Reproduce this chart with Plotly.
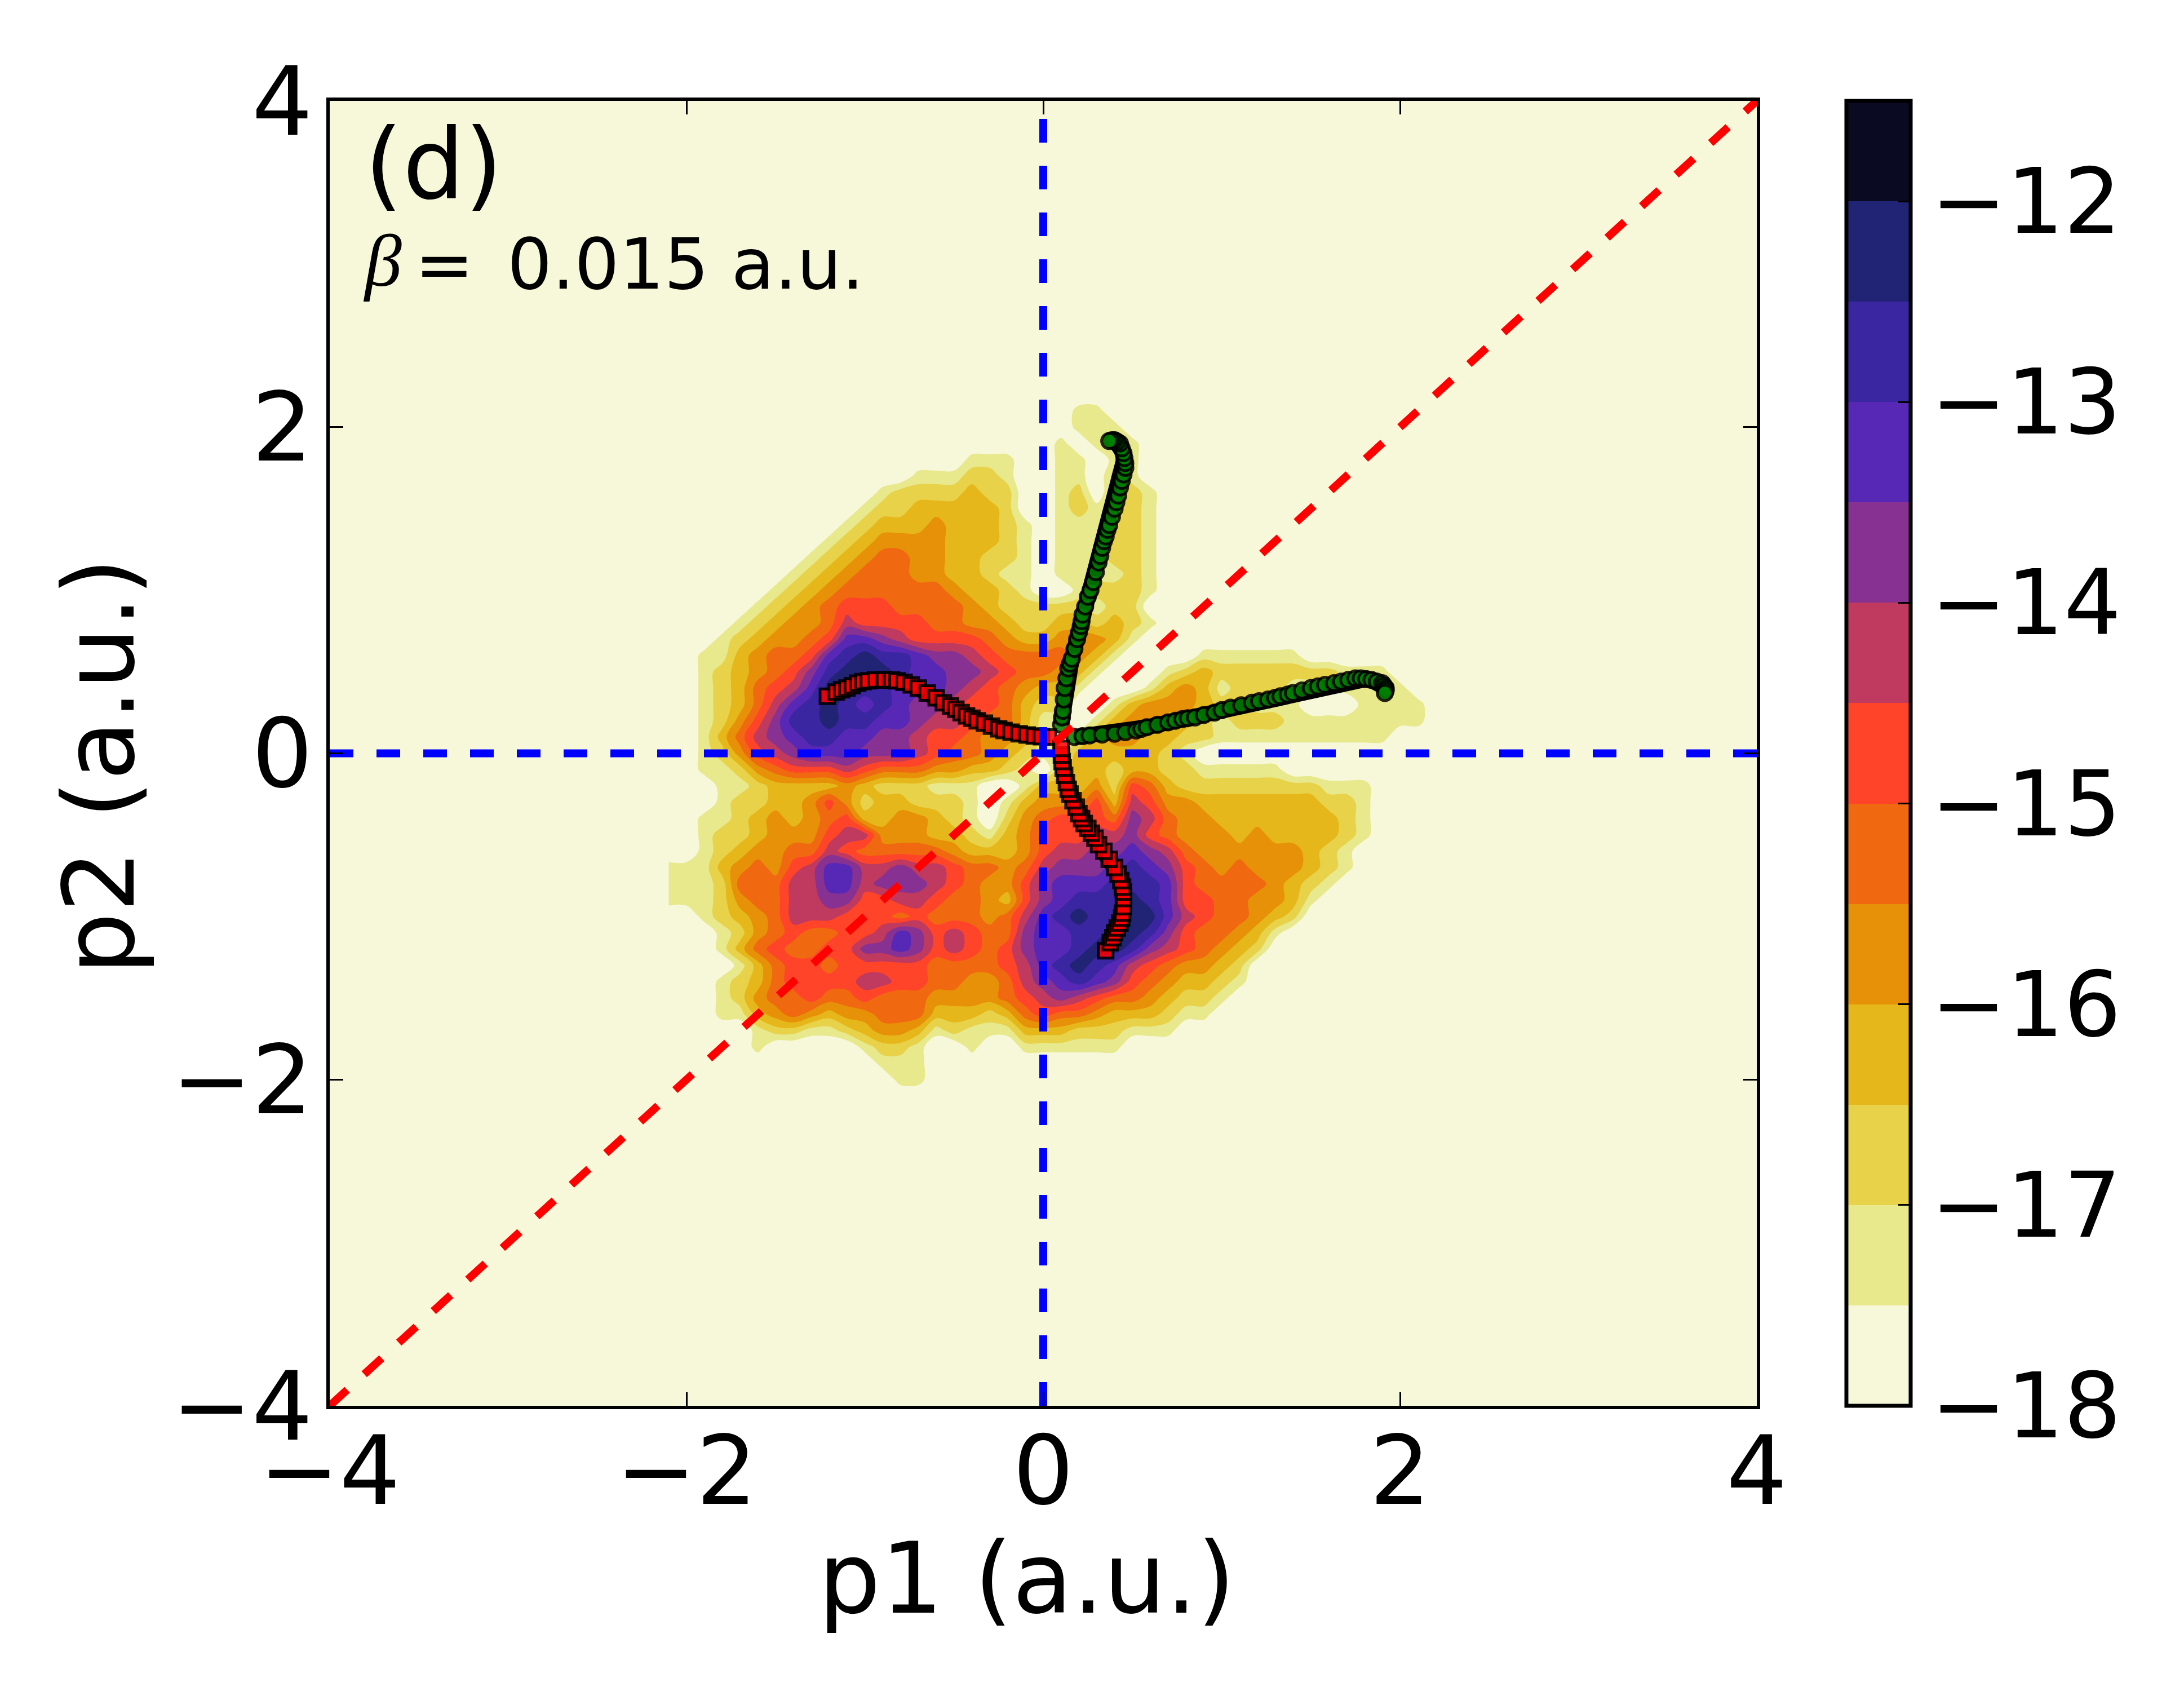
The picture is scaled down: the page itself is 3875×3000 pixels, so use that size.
import plotly.graph_objects as go

# momentum grid (a.u.)
p1_grid = [round(-2.1 + 0.1 * i, 1) for i in range(44)]
p2_grid = [round(2.2 - 0.1 * i, 1) for i in range(44)]

# log10-yield bands, one hexadecimal digit per grid cell.
# p2 -> (first p1 of the run, digits); cells outside a run sit on the floor (digit 0).
z_runs = {
    2.1: (0.2, "11"),
    2.0: (0.2, "111"),
    1.9: (0.1, "10111"),
    1.8: (-0.4, "111 00 110 11"),
    1.7: (-0.7, "111221 00 11021"),
    1.6: (-0.9, "12222322 00 120221"),
    1.5: (-1.0, "122333332 00 121221"),
    1.4: (-1.1, "1233343332 10 111221"),
    1.3: (-1.2, "12344443332 10 111221"),
    1.2: (-1.3, "123455443322 10 111221"),
    1.1: (-1.4, "1234555443321 10 111121"),
    1.0: (-1.5, "12345555554332 10 012221"),
    0.9: (-1.6, "123456665555432 2 2 22122"),
    0.8: (-1.7, "1234457666655443 2 2 332321"),
    0.7: (-1.8, "12344569987666654 3 3 44431"),
    0.6: (-1.9, "1134556 9abaa9887 65555431 0000 111111"),
    0.5: (-1.9, "123456 8abbba9988 76554 31 000 123 2222222 111"),
    0.4: (-1.9, "1235679bbaa9998765433 1 000 1343 1 222 1111111"),
    0.3: (-1.9, "123579aba9a98876653 22 00 13444 322 111 000 1111"),
    0.2: (-1.9, "12468aabaa99877655 3 11 0 1344 332 1 222 11111111"),
    0.1: (-1.9, "1357 89aa99887665443 1 0 1 344 33 22 1111111111"),
    0.0: (-1.9, "12467899988876554 32 11 33333 21"),
    -0.1: (-1.9, "11245666 7655544332 1 0 233 2 33 22 11111"),
    -0.2: (-1.8, "1123333 4 3222 111 00 1 333 4 2 65 3 22222222 111"),
    -0.3: (-1.8, "12233464 2 33 222 1 0 1 3 444 6 3 7 6 44 3333333 22 1"),
    -0.4: (-1.9, "1123 4 3456 33 44 32 1 0 2 4 5 666 5 8 7 5 44 3333333 2 1"),
    -0.5: (-1.9, "12234446 77 444 33 2 1 3 4 666 77 8 6 5 444 3 4 3333 2 1"),
    -0.6: (-1.9, "12344557 6 55555 4 333 4 6 77 88 9 8 7 5 444444 3 2 1"),
    -0.7: (-2.1, "111 34546799 77 8 77 6 55 4 5 7 888 9 a 9 8 6 5 4 5 444 3 2 1"),
    -0.8: (-2.1, "111 25557799 7 888 7 6 5 44 6 8 999 aaa 9 6 5555 4 3 2 1"),
    -0.9: (-2.1, "111 24557788 66 77 6 55 4 3 6 8 9 aaa b a 9 66 55 44 3 1"),
    -1.0: (-1.9, "12345777 666 5 6 555 4 5 7 9 a b aa bb 9 7 6 55 4 3 2"),
    -1.1: (-1.8, "1245655667 98 6 7 6 55 8 99 aa bb a 8 6 55 4 3 1"),
    -1.2: (-1.8, "13565566 88 98 6 7 6 5 6 8 99 a bb a 8 7 6 5 4 3 2"),
    -1.3: (-1.7, "13566566666 5555 6 7 9 a b a 9 7 6 5 44 3 2"),
    -1.4: (-1.8, "12356666 77 66 55 44 5 7 8 9 a 9 8 6 5 4 33 2 1"),
    -1.5: (-1.8, "12455655 6 555 4444 5 6 7 8 7 6 55 4 3 22 1"),
    -1.6: (-1.8, "11345 4 3 44 555 333 2 3 5 6 55 4 333 2 11"),
    -1.7: (-1.6, "122112344 3 1 2 111 333 222 111"),
    -1.8: (-1.6, "1 00000 1221 00 1 00 1 1 1111"),
    -1.9: (-0.9, "111"),
    -2.0: (-0.8, "11"),
}
FLOOR = -18.0
BAND_BOTTOM = -18.0
BAND_STEP = 0.5

# classical trajectories: the second branch of each pair is the first with p1 and p2 exchanged
green_a = [0.10, 0.105, 0.11, 0.115, 0.12, 0.13, 0.14, 0.15, 0.16, 0.175, 0.19, 0.20, 0.21, 0.215, 0.22, 0.235, 0.25, 0.265, 0.28, 0.295, 0.31, 0.32, 0.33, 0.34, 0.35, 0.36, 0.37, 0.385, 0.40, 0.41, 0.42, 0.43, 0.44, 0.45, 0.46, 0.46, 0.455, 0.45, 0.44, 0.43, 0.415, 0.40, 0.385, 0.37]
green_b = [0.175, 0.22, 0.26, 0.33, 0.40, 0.46, 0.52, 0.55, 0.58, 0.64, 0.70, 0.74, 0.78, 0.81, 0.85, 0.90, 0.96, 1.00, 1.05, 1.11, 1.17, 1.21, 1.26, 1.30, 1.33, 1.37, 1.40, 1.45, 1.50, 1.54, 1.58, 1.63, 1.67, 1.71, 1.75, 1.78, 1.81, 1.84, 1.87, 1.90, 1.91, 1.92, 1.92, 1.915]
red_a = [-1.21, -1.16, -1.13, -1.10, -1.07, -1.04, -1.01, -0.98, -0.94, -0.89, -0.85, -0.82, -0.78, -0.74, -0.70, -0.65, -0.60, -0.56, -0.52, -0.49, -0.46, -0.43, -0.40, -0.37, -0.33, -0.29, -0.25, -0.22, -0.18, -0.135, -0.09, -0.05, -0.01, 0.03]
red_b = [0.35, 0.376, 0.39, 0.40, 0.415, 0.43, 0.44, 0.445, 0.45, 0.45, 0.45, 0.445, 0.435, 0.42, 0.40, 0.37, 0.34, 0.31, 0.29, 0.27, 0.25, 0.23, 0.215, 0.20, 0.185, 0.167, 0.15, 0.14, 0.13, 0.12, 0.112, 0.106, 0.102, 0.10]

guide_v_x, guide_v_y = [0, 0], [-4, 4]
guide_h_x, guide_h_y = [-4, 4], [0, 0]
guide_d_x, guide_d_y = [-4, 4], [-4, 4]

axis_ticks = [-4, -2, 0, 2, 4]
bar_ticks = [-18, -17, -16, -15, -14, -13, -12]
band_colors = ["#F7F8DA", "#E8E88C", "#E8D24A", "#E6B71A", "#E69108", "#F0680F", "#FF442A",
               "#BF3A5E", "#873292", "#5727B5", "#3A26A0", "#212375", "#0A0A22"]

z = [[FLOOR] * len(p1_grid) for _ in p2_grid]
for p2, (first, digits) in z_runs.items():
    row = p2_grid.index(p2)
    col = p1_grid.index(first)
    for k, ch in enumerate(digits.replace(" ", "")):
        d = int(ch, 16)
        if d:
            z[row][col + k] = BAND_BOTTOM + BAND_STEP * (d + 0.5)

scale = []
n = len(band_colors)
for i, c in enumerate(band_colors):
    scale += [[i / n, c], [(i + 1) / n, c]]

L, R, T, B = 585, 3117, 179, 2494

fig = go.Figure()
fig.add_trace(go.Contour(
    x=p1_grid, y=p2_grid, z=z, zmin=-18, zmax=-11.5, autocontour=False,
    contours=dict(start=-18, end=-11.5, size=0.5, coloring="fill", showlines=False),
    line=dict(width=0, smoothing=1.0), colorscale=scale, hoverinfo="skip",
    colorbar=dict(
        thicknessmode="pixels", thickness=114, lenmode="fraction", len=1,
        x=(3276 - L) / (R - L), xanchor="left", xpad=0, y=0.5, yanchor="middle", ypad=0,
        outlinecolor="black", outlinewidth=7, tickmode="array", tickvals=bar_ticks,
        ticks="inside", ticklen=25, tickwidth=3, tickcolor="black",
        tickfont=dict(family="DejaVu Sans", size=160, color="black"),
    ),
))

for xs, ys, colr, sym, sz in [
    (green_a, green_b, "#008000", "circle", 27), (green_b, green_a, "#008000", "circle", 27),
    (red_a, red_b, "#FF0000", "square", 26), (red_b, red_a, "#FF0000", "square", 26),
]:
    fig.add_trace(go.Scatter(x=xs, y=ys, mode="lines+markers", showlegend=False, hoverinfo="skip",
                             line=dict(color="black", width=28),
                             marker=dict(color=colr, symbol=sym, size=sz, opacity=0.85,
                                         line=dict(color="black", width=5))))

for xs, ys, colr in [(guide_v_x, guide_v_y, "#0000FF"), (guide_h_x, guide_h_y, "#0000FF"),
                     (guide_d_x, guide_d_y, "#FF0000")]:
    fig.add_trace(go.Scatter(x=xs, y=ys, mode="lines", showlegend=False, hoverinfo="skip",
                             line=dict(color=colr, width=14, dash="42px,41px")))

axis = dict(range=[-4, 4], tickmode="array", tickvals=axis_ticks, ticks="inside", ticklen=24, tickwidth=3,
            tickcolor="black", showline=True, linecolor="black", linewidth=6, mirror="ticks",
            showgrid=False, zeroline=False,
            tickfont=dict(family="DejaVu Sans", size=170, color="black"))
fig.update_xaxes(**axis, ticklabelstandoff=-36)
fig.update_yaxes(**axis, ticklabelstandoff=-10)

fig.update_layout(
    width=3875, height=3000, autosize=False, showlegend=False,
    margin=dict(l=L, r=3875 - R, t=T, b=3000 - B, pad=0),
    paper_bgcolor="white", plot_bgcolor=band_colors[0],
    annotations=[
        dict(x=-3.81, y=3.61, xref="x", yref="y", xanchor="left", yanchor="middle", showarrow=False,
             text="(d)", font=dict(family="DejaVu Sans", size=173, color="black")),
        dict(x=-3.82, y=3.02, xref="x", yref="y", xanchor="left", yanchor="middle", showarrow=False,
             text="<i>β</i>", font=dict(family="Liberation Serif", size=132, color="black")),
        dict(x=-3.53, y=3.0, xref="x", yref="y", xanchor="left", yanchor="middle", showarrow=False,
             text="=", font=dict(family="DejaVu Sans", size=125, color="black")),
        dict(x=-3.01, y=3.0, xref="x", yref="y", xanchor="left", yanchor="middle", showarrow=False,
             text="0.015 a.u.", font=dict(family="DejaVu Sans", size=125, color="black")),
        dict(x=(1822 - L) / (R - L), y=(B - 2800) / (B - T), xref="paper", yref="paper", xanchor="center",
             yanchor="middle", showarrow=False, text="p1 (a.u.)",
             font=dict(family="DejaVu Sans", size=174, color="black")),
        dict(x=(176 - L) / (R - L), y=(B - 1359) / (B - T), xref="paper", yref="paper", xanchor="center",
             yanchor="middle", showarrow=False, textangle=-90, text="p2 (a.u.)",
             font=dict(family="DejaVu Sans", size=174, color="black")),
    ],
)
fig.write_html("out.html", post_script="document.body.style.margin='0';", config=dict(displayModeBar=False))
